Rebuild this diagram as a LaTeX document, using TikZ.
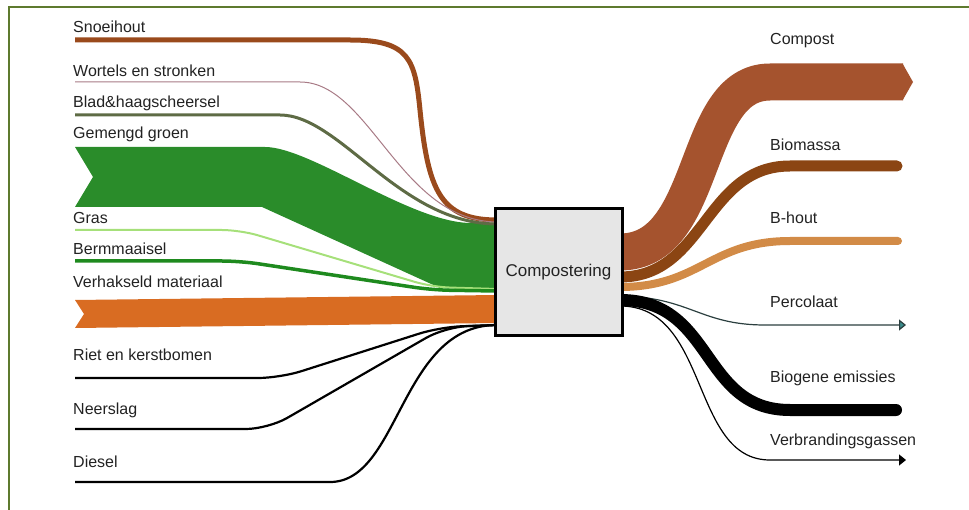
\documentclass[tikz,border=0pt]{standalone}
\usepackage{fontspec}
\setmainfont{Liberation Sans}
\usetikzlibrary{arrows.meta}
\definecolor{frameol}{HTML}{5E7A2E}
\definecolor{txt}{HTML}{222222}
\definecolor{snoei}{HTML}{9A4A1C}
\definecolor{wortel}{HTML}{A87B86}
\definecolor{blad}{HTML}{5E6B45}
\definecolor{gemengd}{HTML}{2A8C2A}
\definecolor{gras}{HTML}{A6E07A}
\definecolor{berm}{HTML}{1E8A1E}
\definecolor{verhak}{HTML}{D96C22}
\definecolor{compost}{HTML}{A5532E}
\definecolor{biomassa}{HTML}{8B4513}
\definecolor{bhout}{HTML}{D28B47}
\definecolor{perc}{HTML}{3A8C8C}
\definecolor{percline}{HTML}{2B3F3F}
\definecolor{boxgray}{HTML}{E6E6E6}
\begin{document}
\begin{tikzpicture}[x=1pt,y=-1pt,
  lbl/.style={anchor=base west, inner sep=0pt, text=txt, font=\fontsize{16}{19}\selectfont},
  procbox/.style={draw=black, line width=3pt, fill=boxgray, minimum width=127pt, minimum height=127pt, inner sep=0pt, text=txt, font=\fontsize{17}{20}\selectfont},
  flowline/.style={line cap=butt, line join=round},
  thinblack/.style={draw=black, line width=2.2pt, rounded corners=22pt},
]
\useasboundingbox (0,0) rectangle (969,510);
% frame
\draw[frameol, line width=2pt] (9,510) -- (9,7) -- (969,7);

% labels left
\node[lbl] (lsnoei) at (73,33) {Snoeihout};
\node[lbl] (lwortel) at (73,77) {Wortels en stronken};
\node[lbl] (lblad) at (73,108) {Blad\&haagscheersel};
\node[lbl] (lgemengd) at (73,139) {Gemengd groen};
\node[lbl] (lgras) at (73,224) {Gras};
\node[lbl] (lberm) at (73,255) {Bermmaaisel};
\node[lbl] (lverhak) at (73,288) {Verhakseld materiaal};
\node[lbl] (lriet) at (73,361) {Riet en kerstbomen};
\node[lbl] (lneer) at (73,414) {Neerslag};
\node[lbl] (ldiesel) at (73,467) {Diesel};
% labels right
\node[lbl] (rcompost) at (770,45) {Compost};
\node[lbl] (rbio) at (770,151) {Biomassa};
\node[lbl] (rbhout) at (770,224) {B-hout};
\node[lbl] (rperc) at (770,308) {Percolaat};
\node[lbl] (rbiog) at (770,383) {Biogene emissies};
\node[lbl] (rverb) at (770,445) {Verbrandingsgassen};

% coordinates of flow ends
\coordinate (sSnoei) at (75,40);
\coordinate (sWortel) at (75,82);
\coordinate (sBlad) at (75,115);
\coordinate (sGras) at (75,230);
\coordinate (sBerm) at (75,261);
\coordinate (sRiet) at (75,378);
\coordinate (sNeer) at (75,429);
\coordinate (sDiesel) at (75,482);
\coordinate (inTop) at (497,220);
\coordinate (inGreen) at (497,289);
\coordinate (inBlack) at (497,325);
\coordinate (outCompost) at (620,252);
\coordinate (outBio) at (620,277);
\coordinate (outBhout) at (620,287);
\coordinate (outPerc) at (620,296);
\coordinate (outBiog) at (620,300);
\coordinate (outVerb) at (620,306);
\coordinate (eCompost) at (903,82);
\coordinate (eBio) at (897,166);
\coordinate (eBhout) at (898,241);
\coordinate (ePerc) at (906,325);
\coordinate (eBiog) at (896,410);
\coordinate (eVerb) at (906,460);

% ---- left inputs ----
% Gemengd groen band
\fill[gemengd] (75,147) -- (265,147) .. controls (310,147) and (410,222) .. (470,223) -- (497,223)
  -- (497,290) -- (440,288) -- (262,207) -- (75,207) -- (93,177) -- cycle;
% Snoeihout
\draw[snoei, line width=5pt, flowline] (sSnoei) -- (350,40) .. controls (410,40) and (415,60) .. (420,110)
  .. controls (428,190) and (440,220) .. (inTop);
% Wortels
\draw[wortel, line width=1pt] (sWortel) -- (300,82) .. controls (370,82) and (400,221) .. (497,222);
% Blad
\draw[blad, line width=3pt] (sBlad) -- (280,115) .. controls (340,115) and (400,224) .. (497,224);
% Gras and Bermmaaisel
\draw[gras, line width=2pt, rounded corners=18pt] (sGras) -- (240,230) -- (432,287) -- (inGreen);
\draw[berm, line width=3.5pt, rounded corners=18pt] (sBerm) -- (240,261) -- (432,290) -- (497,291);
% Verhakseld materiaal band
\fill[verhak] (75,300) -- (497,295) -- (497,323) -- (75,328) -- (84,314) -- cycle;
% black inputs
\draw[thinblack] (sRiet) -- (280,378) -- (440,327) -- (inBlack);
\draw[thinblack] (sNeer) -- (268,429) -- (445,327) -- (inBlack);
\draw[black, line width=2.2pt] (sDiesel) -- (330,482) .. controls (400,482) and (400,325) .. (inBlack);

% ---- right outputs ----
\draw[compost, line width=37pt, flowline] (outCompost) .. controls (710,252) and (690,82) .. (770,82) -- (eCompost);
\fill[compost] (902.5,63.5) -- (913,82) -- (902.5,100.5) -- cycle;
\draw[biomassa, line width=11pt, line cap=round] (outBio) .. controls (705,277) and (705,166) .. (790,166) -- (eBio);
\draw[bhout, line width=8pt, line cap=round] (outBhout) .. controls (700,287) and (710,241) .. (790,241) -- (eBhout);
\draw[percline, line width=1.2pt, -{Triangle[length=7pt,width=11pt,fill=perc]}] (outPerc) .. controls (690,297) and (700,325) .. (765,325) -- (ePerc);
\draw[black, line width=1.2pt, -{Triangle[length=7pt,width=11pt]}] (outVerb) .. controls (710,306) and (690,460) .. (770,460) -- (eVerb);
\draw[black, line width=12pt, line cap=round] (outBiog) .. controls (715,300) and (700,410) .. (790,410) -- (eBiog);

% ---- process box ----
\node[procbox] (box) at (558.5,272.5) {Compostering};
\end{tikzpicture}
\end{document}
